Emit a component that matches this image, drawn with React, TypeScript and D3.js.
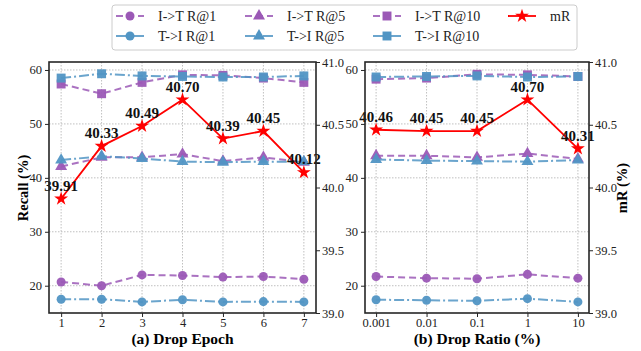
import React, { useRef, useEffect } from "react";
import * as d3 from "d3";

// Drop Epoch panel
const epochs = [1, 2, 3, 4, 5, 6, 7];
const epochI2T1 = [20.7, 20.0, 22.0, 21.9, 21.6, 21.7, 21.2];
const epochT2I1 = [17.5, 17.5, 17.0, 17.4, 17.0, 17.05, 17.0];
const epochI2T5 = [42.1, 43.8, 43.8, 44.4, 43.1, 43.8, 42.9];
const epochT2I5 = [43.3, 44.0, 43.6, 43.0, 42.9, 43.0, 43.0];
const epochI2T10 = [57.4, 55.6, 57.7, 59.1, 59.0, 58.5, 57.7];
const epochT2I10 = [58.5, 59.3, 58.9, 58.8, 58.7, 58.7, 58.9];
const epochMR = [39.91, 40.33, 40.49, 40.7, 40.39, 40.45, 40.12];

// Drop Ratio panel
const ratios = ["0.001", "0.01", "0.1", "1", "10"];
const ratioI2T1 = [21.7, 21.4, 21.3, 22.1, 21.4];
const ratioT2I1 = [17.4, 17.3, 17.2, 17.6, 17.0];
const ratioI2T5 = [44.1, 44.1, 43.8, 44.5, 43.5];
const ratioT2I5 = [43.4, 43.2, 43.1, 43.0, 43.3];
const ratioI2T10 = [58.3, 58.5, 59.2, 59.1, 58.8];
const ratioT2I10 = [58.7, 58.8, 58.9, 58.7, 58.8];
const ratioMR = [40.46, 40.45, 40.45, 40.7, 40.31];

const recallTicks = [20, 30, 40, 50, 60];
const mrTicks = [39.0, 39.5, 40.0, 40.5, 41.0];

const PURPLE = "#9b59b6";
const BLUE = "#5195c4";
const RED = "#ff0000";
const FONT = "Liberation Serif, DejaVu Serif, serif";

const seriesDefs = [
  { key: "i2t1", label: "I->T R@1", color: PURPLE, dash: "7,4", marker: "circle" },
  { key: "t2i1", label: "T->I R@1", color: BLUE, dash: "10,3,2,3", marker: "circle" },
  { key: "i2t5", label: "I->T R@5", color: PURPLE, dash: "7,4", marker: "triangle" },
  { key: "t2i5", label: "T->I R@5", color: BLUE, dash: "10,3,2,3", marker: "triangle" },
  { key: "i2t10", label: "I->T R@10", color: PURPLE, dash: "7,4", marker: "square" },
  { key: "t2i10", label: "T->I R@10", color: BLUE, dash: "10,3,2,3", marker: "square" },
];

const symbolFor = (m) =>
  m === "circle" ? d3.symbol(d3.symbolCircle, 64)
    : m === "triangle" ? d3.symbol(d3.symbolTriangle, 62)
    : m === "square" ? d3.symbol(d3.symbolSquare, 80)
    : d3.symbol(d3.symbolStar, 60);

const App = () => {
  const svgRef = useRef(null);

  useEffect(() => {
    const width = 641, height = 351;
    const top = 62, bottom = 313;
    const svg = d3.select(svgRef.current);
    svg.selectAll("*").remove();
    svg.attr("width", width).attr("height", height)
      .attr("font-family", FONT)
      .style("background", "#fff");

    const yRecall = d3.scaleLinear().domain([14.94, 61.48]).range([bottom, top]);
    const yMR = d3.scaleLinear().domain([39, 41]).range([bottom, top]);

    const panels = [
      {
        x0: 49, x1: 316,
        x: d3.scaleLinear().domain([0.7, 7.3]).range([49, 316]),
        idx: epochs.map(e => e),
        tickLabels: epochs.map(String),
        series: {
          i2t1: epochI2T1, t2i1: epochT2I1, i2t5: epochI2T5,
          t2i5: epochT2I5, i2t10: epochI2T10, t2i10: epochT2I10,
        },
        mr: epochMR,
        title: "(a) Drop Epoch",
      },
      {
        x0: 365, x1: 589,
        x: d3.scaleLinear().domain([-0.22, 4.22]).range([365, 589]),
        idx: ratios.map((_, i) => i),
        tickLabels: ratios,
        series: {
          i2t1: ratioI2T1, t2i1: ratioT2I1, i2t5: ratioI2T5,
          t2i5: ratioT2I5, i2t10: ratioI2T10, t2i10: ratioT2I10,
        },
        mr: ratioMR,
        title: "(b) Drop Ratio (%)",
      },
    ];

    panels.forEach(p => {
      const g = svg.append("g");

      // grid
      g.selectAll(".gy").data(recallTicks).enter().append("line")
        .attr("x1", p.x0).attr("x2", p.x1)
        .attr("y1", d => yRecall(d)).attr("y2", d => yRecall(d))
        .attr("stroke", "#b0b0b0").attr("stroke-width", 0.8)
        .attr("stroke-dasharray", "1.5,1.5");
      g.selectAll(".gx").data(p.idx).enter().append("line")
        .attr("x1", d => p.x(d)).attr("x2", d => p.x(d))
        .attr("y1", top).attr("y2", bottom)
        .attr("stroke", "#b0b0b0").attr("stroke-width", 0.8)
        .attr("stroke-dasharray", "1.5,1.5");

      // recall series
      seriesDefs.forEach(s => {
        const vals = p.series[s.key];
        const line = d3.line()
          .x((d, i) => p.x(p.idx[i]))
          .y(d => yRecall(d));
        g.append("path")
          .datum(vals)
          .attr("d", line)
          .attr("fill", "none")
          .attr("stroke", s.color)
          .attr("stroke-opacity", 0.85)
          .attr("stroke-width", 2)
          .attr("stroke-dasharray", s.dash);
        g.selectAll(null).data(vals).enter().append("path")
          .attr("d", symbolFor(s.marker))
          .attr("transform", (d, i) => `translate(${p.x(p.idx[i])},${yRecall(d)})`)
          .attr("fill", s.color)
          .attr("fill-opacity", 0.95);
      });

      // mR series
      const mrLine = d3.line()
        .x((d, i) => p.x(p.idx[i]))
        .y(d => yMR(d));
      g.append("path")
        .datum(p.mr)
        .attr("d", mrLine)
        .attr("fill", "none")
        .attr("stroke", RED)
        .attr("stroke-width", 1.8);
      g.selectAll(null).data(p.mr).enter().append("path")
        .attr("d", symbolFor("star"))
        .attr("transform", (d, i) => `translate(${p.x(p.idx[i])},${yMR(d)})`)
        .attr("fill", RED);
      g.selectAll(null).data(p.mr).enter().append("text")
        .attr("x", (d, i) => p.x(p.idx[i]))
        .attr("y", d => yMR(d) - 8)
        .attr("text-anchor", "middle")
        .attr("font-family", FONT)
        .attr("font-weight", "bold")
        .attr("font-size", 15)
        .attr("fill", "#111")
        .text(d => d.toFixed(2));

      // frame
      g.append("rect")
        .attr("x", p.x0).attr("y", top)
        .attr("width", p.x1 - p.x0).attr("height", bottom - top)
        .attr("fill", "none").attr("stroke", "#262626").attr("stroke-width", 1.6);

      // left recall axis
      const leftAx = g.append("g")
        .attr("transform", `translate(${p.x0},0)`)
        .call(d3.axisLeft(yRecall).tickValues(recallTicks).tickSize(4).tickPadding(3));
      // right mR axis
      const rightAx = g.append("g")
        .attr("transform", `translate(${p.x1},0)`)
        .call(d3.axisRight(yMR).tickValues(mrTicks).tickFormat(d3.format(".1f")).tickSize(4).tickPadding(2));
      // x axis
      const xAx = g.append("g")
        .attr("transform", `translate(0,${bottom})`)
        .call(d3.axisBottom(p.x).tickValues(p.idx).tickFormat((d, i) => p.tickLabels[i]).tickSize(4).tickPadding(1));

      [leftAx, rightAx, xAx].forEach(ax => {
        ax.attr("font-family", FONT).attr("font-size", 12.5);
        ax.select(".domain").remove();
        ax.selectAll("line").attr("stroke", "#262626").attr("stroke-width", 1);
        ax.selectAll("text").attr("fill", "#222");
      });

      g.append("text")
        .attr("x", (p.x0 + p.x1) / 2)
        .attr("y", 344)
        .attr("text-anchor", "middle")
        .attr("font-family", FONT)
        .attr("font-weight", "bold")
        .attr("font-size", 15.5)
        .text(p.title);
    });

    // axis titles
    svg.append("text")
      .attr("transform", `translate(28,188) rotate(-90)`)
      .attr("text-anchor", "middle")
      .attr("font-family", FONT)
      .attr("font-weight", "bold")
      .attr("font-size", 14.5)
      .text("Recall (%)");
    svg.append("text")
      .attr("transform", `translate(627,188) rotate(-90)`)
      .attr("text-anchor", "middle")
      .attr("font-family", FONT)
      .attr("font-weight", "bold")
      .attr("font-size", 14.5)
      .text("mR (%)");

    // legend
    const legend = svg.append("g");
    legend.append("rect")
      .attr("x", 112).attr("y", 5).attr("width", 465).attr("height", 45)
      .attr("rx", 3)
      .attr("fill", "#fff").attr("stroke", "#cccccc").attr("stroke-width", 1);

    const colX = [116, 245, 373, 508];
    const rowY = [16, 36];
    const entries = [
      ...seriesDefs.map((s, i) => ({ ...s, col: Math.floor(i / 2), row: i % 2 })),
      { key: "mr", label: "mR", color: RED, dash: null, marker: "star", col: 3, row: 0 },
    ];
    entries.forEach(e => {
      const cx = colX[e.col], cy = rowY[e.row];
      legend.append("line")
        .attr("x1", cx).attr("x2", cx + 28)
        .attr("y1", cy).attr("y2", cy)
        .attr("stroke", e.color)
        .attr("stroke-opacity", e.dash ? 0.85 : 1)
        .attr("stroke-width", e.dash ? 2 : 1.8)
        .attr("stroke-dasharray", e.dash);
      legend.append("path")
        .attr("d", symbolFor(e.marker))
        .attr("transform", `translate(${cx + 14},${cy})`)
        .attr("fill", e.color);
      legend.append("text")
        .attr("x", cx + 42)
        .attr("y", cy + 5)
        .attr("font-family", FONT)
        .attr("font-size", 14)
        .attr("fill", "#222")
        .text(e.label);
    });
  }, []);

  return (
    <div style={{ position: "absolute", left: 0, top: 0 }}>
      <svg ref={svgRef}></svg>
    </div>
  );
};

export default App;
